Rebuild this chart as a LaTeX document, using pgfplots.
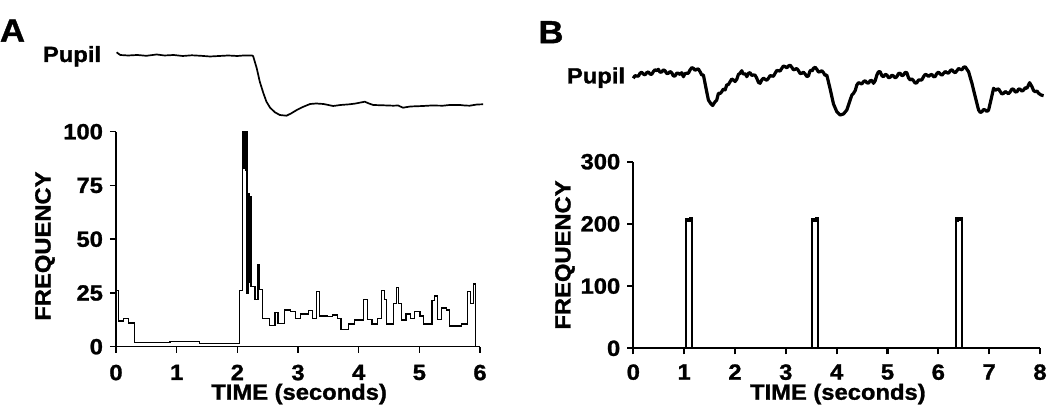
\documentclass[border=0pt]{standalone}
\usepackage{fontspec}
\setmainfont{Liberation Sans}[FakeStretch=1.08, BoldFeatures={FakeBold=1.2}]
\usepackage{pgfplots}
\usepackage{pgfplotstable}
\pgfplotsset{compat=1.18}
\newcommand\lblfont{\bfseries\fontsize{11}{11}\selectfont}

\pgfplotstableread{
t f
0 26
0.04 12
0.12 13.2
0.20 11
0.30 1.8
0.89 2.3
1.38 1.5
2.04 26
2.08 100
2.085 84
2.09 100
2.095 83
2.10 100
2.105 85
2.11 100
2.115 83
2.12 100
2.125 84
2.13 100
2.135 82
2.14 100
2.145 84
2.15 100
2.16 25
2.19 71
2.195 30
2.20 70
2.225 28
2.29 22
2.34 38
2.345 24
2.35 38
2.37 26.5
2.42 13
2.53 9.7
2.62 15.8
2.67 10.9
2.78 17.1
2.87 16.3
2.96 13.2
3.04 15.2
3.17 16.7
3.24 13.2
3.31 25.6
3.36 14.3
3.49 14.0
3.57 14.7
3.65 13.2
3.71 8.1
3.83 10.6
3.93 12.4
4.08 22.0
4.14 12.7
4.22 10.6
4.31 13.2
4.38 26.1
4.43 22.0
4.46 10.6
4.57 20.2
4.62 27.6
4.66 20.2
4.71 12.4
4.78 15.2
4.85 13.2
4.92 16.3
5.01 14.3
5.07 10.6
5.21 21.4
5.25 23.6
5.30 12.7
5.36 18.0
5.45 17.1
5.50 9.6
5.70 10.6
5.80 25.6
5.85 20.2
5.89 29.2
5.93 0
}\histA

\pgfplotstableread{
t f
0 0
1.03 208
1.05 204
1.07 208
1.09 205
1.11 209
1.15 0
3.51 208
3.53 204
3.55 208
3.57 205
3.59 209
3.63 0
6.35 209
6.37 205
6.39 209
6.41 206
6.43 210
6.47 0
8 0
}\histB

\pgfplotstableread{
t p
0.01 -52.3
0.07 -55
0.2 -55.5
0.35 -55
0.5 -55.8
0.67 -54.5
0.8 -55.5
0.95 -55
1.1 -56
1.25 -55.3
1.4 -55.8
1.55 -56.5
1.7 -56
1.85 -55.5
2.0 -56
2.1 -55.5
2.24 -55.5
2.26 -56
2.32 -68.3
2.37 -81.7
2.43 -93.3
2.48 -101.7
2.54 -107.7
2.62 -112.3
2.70 -115
2.81 -115.7
2.89 -113.3
2.98 -110
3.09 -106.7
3.20 -104
3.3 -103.5
3.42 -104
3.5 -105
3.58 -106
3.7 -105
3.85 -104.3
3.95 -103.5
4.10 -101.7
4.17 -103.5
4.24 -105
4.4 -105.3
4.57 -105.7
4.65 -105.5
4.73 -107.7
4.85 -106.5
5.06 -106
5.2 -105.5
5.39 -105.7
5.5 -105
5.67 -105
5.75 -105.5
5.83 -105.7
5.95 -104.5
6.05 -104.3
}\pupA

\pgfplotstableread{
t p
0.00 -78.3
0.033 -75.7
0.066 -76
0.099 -76.2
0.132 -73.3
0.165 -72.2
0.197 -74
0.230 -74.9
0.263 -72.7
0.296 -71.9
0.329 -74
0.361 -74.4
0.394 -71.7
0.427 -69.7
0.460 -70.7
0.493 -69.3
0.525 -72.2
0.558 -72
0.591 -69.9
0.624 -70.7
0.657 -73.5
0.690 -73.3
0.722 -71.5
0.755 -72.7
0.788 -75.9
0.821 -76
0.853 -73.2
0.886 -73.3
0.919 -74.5
0.952 -72.7
0.985 -76.7
1.018 -73.5
1.051 -73.3
1.083 -73.2
1.116 -70
1.149 -67.7
1.182 -68.3
1.214 -70.3
1.247 -69.3
1.280 -69
1.313 -71.7
1.346 -74.9
1.379 -75
1.411 -83.3
1.444 -91.7
1.477 -100
1.530 -104
1.562 -105.5
1.595 -102.7
1.641 -100
1.674 -93.3
1.707 -93.5
1.740 -91.7
1.772 -89
1.805 -90
1.838 -85
1.871 -84.5
1.904 -81.7
1.936 -79
1.969 -80
2.002 -81.5
2.035 -79.3
2.067 -74.5
2.100 -73.3
2.133 -70.7
2.160 -73.8
2.186 -74
2.209 -74
2.232 -76.7
2.265 -73.2
2.297 -72.7
2.330 -75.4
2.363 -75
2.396 -75.2
2.429 -78.3
2.461 -82.3
2.494 -83.3
2.527 -80
2.560 -78.2
2.593 -79.3
2.625 -80.3
2.658 -78.3
2.691 -75.6
2.724 -76
2.757 -76.2
2.789 -73.3
2.822 -70.5
2.855 -70.7
2.888 -71
2.921 -68.3
2.953 -66
2.986 -66.7
3.019 -67.8
3.052 -66
3.085 -65.2
3.118 -67.3
3.150 -69.8
3.183 -69.3
3.216 -68.5
3.249 -70.7
3.282 -73.5
3.314 -73.3
3.347 -72.2
3.380 -74
3.412 -76.5
3.445 -76
3.471 -71.5
3.498 -70
3.521 -70.7
3.544 -68.3
3.577 -67.3
3.610 -69.3
3.642 -72
3.675 -71.7
3.708 -70.7
3.741 -72.7
3.773 -75.4
3.806 -75
3.872 -89
3.938 -104
4.003 -111.7
4.069 -115
4.134 -114
4.200 -110
4.266 -100
4.298 -95.2
4.331 -93.3
4.364 -90.7
4.397 -85
4.430 -82.7
4.463 -83.3
4.495 -84
4.528 -81.7
4.561 -80.7
4.594 -82.7
4.626 -83.2
4.659 -80.7
4.692 -80.5
4.725 -83.3
4.758 -80.7
4.791 -75
4.823 -71.8
4.856 -71.7
4.889 -75.7
4.922 -76.7
4.955 -74.4
4.988 -75
5.020 -77.7
5.053 -77.3
5.086 -75.2
5.119 -76
5.151 -77.9
5.184 -76.7
5.217 -73.5
5.250 -73.3
5.283 -75.7
5.316 -75
5.348 -72.4
5.381 -72.7
5.414 -77.9
5.447 -80
5.479 -78.9
5.512 -80.7
5.545 -83.2
5.578 -82.7
5.611 -79.9
5.644 -80
5.676 -79.9
5.709 -76.7
5.742 -74.4
5.775 -75
5.808 -76.5
5.841 -75
5.873 -74.4
5.906 -76.7
5.939 -76.5
5.972 -73.3
6.004 -72.2
6.037 -74
6.070 -75.2
6.103 -73.3
6.136 -71.5
6.169 -72.7
6.201 -73.2
6.234 -70.7
6.267 -69.7
6.300 -71.7
6.333 -72.7
6.366 -70.7
6.398 -68.5
6.431 -69.3
6.464 -69.8
6.497 -67.3
6.530 -66.8
6.562 -69.3
6.595 -71.7
6.661 -83.3
6.726 -96.7
6.792 -110
6.825 -112.5
6.858 -111.7
6.890 -109.5
6.923 -110
6.956 -111.5
6.989 -110
7.035 -100
7.087 -88.3
7.120 -90.3
7.153 -89.3
7.186 -89
7.219 -91.7
7.251 -94
7.284 -93.3
7.317 -91.5
7.350 -92.7
7.382 -93.7
7.415 -91.7
7.448 -89
7.481 -89.3
7.514 -92
7.547 -91.7
7.579 -89
7.612 -89.3
7.645 -91.2
7.678 -90
7.710 -87.7
7.743 -88.3
7.796 -82.7
7.842 -86.7
7.875 -90.7
7.907 -91.7
7.940 -91
7.973 -93.3
8.020 -95
8.071 -95.7
}\pupB

\pgfplotsset{
  histo/.style={
    scale only axis, axis lines*=left, tick align=outside, clip=false,
    ticklabel style={font=\lblfont},
    /pgf/number format/assume math mode=true,
    major tick length=3pt,
    tick style={black},
  },
  pupil/.style={scale only axis, hide axis, clip=false,
    ymin=-125, ymax=-40},
}

\begin{document}
\begin{tikzpicture}
\path[use as bounding box] (0,0) rectangle (525pt,-205.5pt);

% Panel A labels
\node[font=\bfseries\fontsize{16}{16}\selectfont, anchor=base] at (6.25pt,-20.8pt) {A};
\node[font=\lblfont, anchor=base] at (36pt,-31pt) {Pupil};
% Panel B labels
\node[font=\bfseries\fontsize{16}{16}\selectfont, anchor=base] at (275.5pt,-21.6pt) {B};
\node[font=\lblfont, anchor=base] at (298pt,-41.7pt) {Pupil};

% Panel A pupil
\begin{axis}[pupil, at={(58pt,-62.5pt)}, anchor=south west,
  width=182pt, height=42.5pt, xmin=0, xmax=6]
\addplot[black, line width=0.85pt, line join=round] table[x=t, y=p] {\pupA};
\end{axis}

% Panel A histogram
\begin{axis}[histo, at={(58pt,-173.35pt)}, anchor=south west,
  width=182pt, height=107.5pt,
  xmin=0, xmax=6, ymin=0, ymax=100,
  xtick={0,1,2,3,4,5,6}, ytick={0,25,50,75,100},
  xticklabel style={yshift=-2.5pt},
  axis line style={line width=0.7pt},
  tick style={line width=0.7pt},
  xlabel={TIME (seconds)}, ylabel={FREQUENCY},
  every axis x label/.style={at={(axis description cs:0.503,-0.22)}, anchor=center, font=\lblfont},
  every axis y label/.style={at={(axis description cs:-0.195,0.468)}, rotate=90, anchor=center, font=\lblfont},
]
\addplot[const plot, black, line width=0.6pt] table[x=t, y=f] {\histA};
\end{axis}

% Panel B pupil
\begin{axis}[pupil, at={(316.65pt,-62.5pt)}, anchor=south west,
  width=203.35pt, height=42.5pt, xmin=0, xmax=8]
\addplot[black, line width=1.6pt, line join=round] table[x=t, y=p] {\pupB};
\end{axis}

% Panel B histogram
\begin{axis}[histo, at={(316.65pt,-174.15pt)}, anchor=south west,
  width=203.35pt, height=93.3pt,
  xmin=0, xmax=8, ymin=0, ymax=300,
  xtick={0,1,2,3,4,5,6,7,8}, ytick={0,100,200,300},
  xticklabel style={yshift=-1.5pt},
  axis line style={line width=1.1pt},
  tick style={line width=1.1pt},
  xlabel={TIME (seconds)}, ylabel={FREQUENCY},
  every axis x label/.style={at={(axis description cs:0.503,-0.245)}, anchor=center, font=\lblfont},
  every axis y label/.style={at={(axis description cs:-0.168,0.5)}, rotate=90, anchor=center, font=\lblfont},
]
\addplot[const plot, black, line width=1pt] table[x=t, y=f] {\histB};
\end{axis}
\end{tikzpicture}
\end{document}
